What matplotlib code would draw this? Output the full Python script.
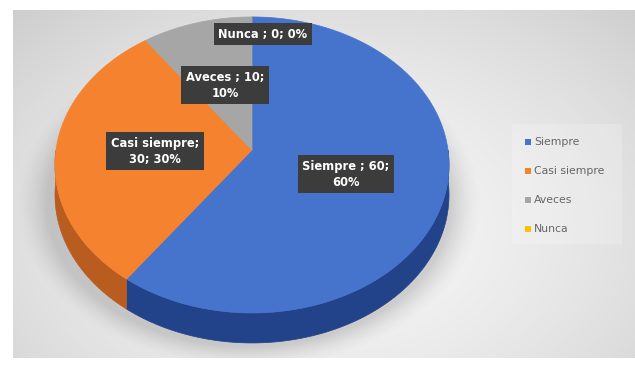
import numpy as np
import matplotlib
matplotlib.use("Agg")
import matplotlib.pyplot as plt
from matplotlib.patches import Polygon, Rectangle

# survey answers
categories = ["Siempre", "Casi siempre", "Aveces", "Nunca"]
values = [60, 30, 10, 0]
label_text = ["Siempre ; 60;\n60%", "Casi siempre;\n30; 30%", "Aveces ; 10;\n10%", "Nunca ; 0; 0%"]

top_colors = ["#4674CC", "#F4822F", "#A6A6A6", "#FFC000"]
side_colors = ["#22428A", "#B85C20", "#7A7A7A", "#BF9000"]

W, H = 635, 374
fig = plt.figure(figsize=(W / 100, H / 100), dpi=100)
ax = fig.add_axes([0, 0, 1, 1])
ax.set_xlim(0, W)
ax.set_ylim(H, 0)
ax.axis("off")

# grey panel with soft radial gradient
px0, px1, py0, py1 = 13, 635, 10, 358
gx, gy = np.meshgrid(np.arange(px0, px1), np.arange(py0, py1))
r = np.sqrt(((gx - 330) / 380.0) ** 2 + ((gy - 230) / 260.0) ** 2)
shade = 0.965 - 0.12 * np.clip(r, 0, 1.2) ** 1.6
ax.imshow(np.dstack([shade] * 3), extent=(px0, px1, py1, py0), zorder=0)

# pie geometry (tilted disc with a little perspective)
cx, cy = 252, 150
A, B, k = 196, 146.5, 0.101
depth = 30


def proj(t, dz=0.0):
    u, v = np.cos(t), np.sin(t)
    w = 1 + k * v
    return cx + A * u / w, cy - B * v / w + dz


# soft shadow under the disc, falls down and to the left
rr = np.sqrt(((gx - 248) / 206.0) ** 2 + ((gy - 203) / 146.0) ** 2)
alpha = np.clip((1.13 - rr) / 0.15, 0, 1) ** 1.5 * 0.26
sh = np.zeros(gx.shape + (4,))
sh[..., :3] = 0.4
sh[..., 3] = alpha
ax.imshow(sh, extent=(px0, px1, py1, py0), zorder=1)

total = float(sum(values))
start = np.pi / 2
angles = []
for val in values:
    end = start - 2 * np.pi * val / total
    angles.append((start, end))
    start = end

# outer rim, only the front half shows
for (a0, a1), col in zip(angles, side_colors):
    lo, hi = min(a0, a1), max(a0, a1)
    if hi - lo <= 0:
        continue
    ts = np.linspace(lo, hi, 200)
    front = ts[np.sin(ts) <= 0.0]
    if len(front) < 2:
        continue
    xt, yt = proj(front)
    xb, yb = proj(front[::-1], depth)
    pts = np.column_stack([np.r_[xt, xb], np.r_[yt, yb]])
    ax.add_patch(Polygon(pts, closed=True, fc=col, ec=col, lw=0.5, zorder=2))

# top faces
for (a0, a1), col in zip(angles, top_colors):
    if abs(a1 - a0) <= 0:
        continue
    ts = np.linspace(a0, a1, 200)
    xt, yt = proj(ts)
    pts = np.column_stack([np.r_[cx, xt], np.r_[cy, yt]])
    ax.add_patch(Polygon(pts, closed=True, fc=col, ec=col, lw=0.5, zorder=3))

# data labels
label_pos = [(346, 174), (155, 151), (225, 85), (263, 34)]
for (lx, ly), txt in zip(label_pos, label_text):
    ax.text(lx, ly, txt, ha="center", va="center", color="white",
            fontsize=8.3, fontweight="bold", family="DejaVu Sans", linespacing=1.3,
            bbox=dict(boxstyle="square,pad=0.4", fc="#3C3C3C", ec="none"),
            zorder=5)

# legend
ax.add_patch(Rectangle((512, 124), 110, 120, fc="white", ec="none", alpha=0.2, zorder=1))
for i, (name, col) in enumerate(zip(categories, top_colors)):
    yy = 142 + i * 29
    ax.add_patch(Rectangle((525, yy - 3), 6, 6, fc=col, ec="none", zorder=4))
    ax.text(534, yy, name, ha="left", va="center", fontsize=7.8,
            color="#666666", family="DejaVu Sans", zorder=4)

fig.savefig("out.png", dpi=100)
